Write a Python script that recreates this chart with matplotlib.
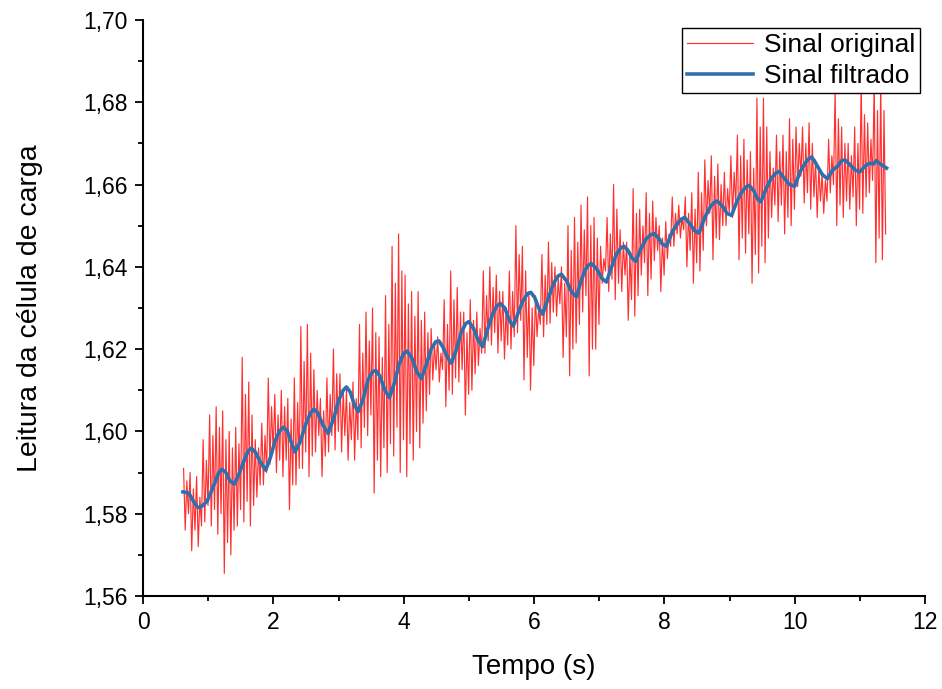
import numpy as np
import matplotlib
matplotlib.use("Agg")
import matplotlib.pyplot as plt
from matplotlib.ticker import MultipleLocator, FuncFormatter

# sinal original: envelope, um bloco a cada 0,1 s a partir de 0,62 s
t0 = 0.62
bloco = 0.1
hi_a = [1.591, 1.590, 1.589, 1.598, 1.604, 1.606, 1.605, 1.600, 1.601, 1.618,
        1.612, 1.598, 1.602, 1.613, 1.609, 1.610, 1.608, 1.613, 1.6255, 1.626,
        1.615, 1.608, 1.613, 1.620, 1.614, 1.610, 1.612, 1.626, 1.629, 1.630,
        1.623, 1.633, 1.645, 1.648, 1.638, 1.634, 1.634, 1.629, 1.625, 1.623,
        1.632, 1.639, 1.635, 1.629, 1.632, 1.629, 1.639, 1.640, 1.638, 1.634,
        1.639, 1.650, 1.645, 1.634, 1.633, 1.643, 1.646, 1.640, 1.640, 1.650,
        1.652, 1.655, 1.657, 1.652, 1.645, 1.652, 1.660, 1.649, 1.646, 1.659,
        1.654, 1.658, 1.656, 1.650, 1.651, 1.657, 1.655, 1.657, 1.658, 1.663,
        1.666, 1.667, 1.665, 1.663, 1.667, 1.672, 1.671, 1.668, 1.681, 1.681,
        1.668, 1.672, 1.672, 1.676, 1.674, 1.674, 1.675, 1.666, 1.6627, 1.671,
        1.683, 1.674, 1.670, 1.674, 1.685, 1.675, 1.685, 1.685]
lo_a = [1.576, 1.571, 1.572, 1.578, 1.577, 1.575, 1.5655, 1.570, 1.577, 1.578,
        1.577, 1.584, 1.587, 1.592, 1.590, 1.589, 1.581, 1.587, 1.591, 1.589,
        1.595, 1.589, 1.595, 1.5955, 1.595, 1.593, 1.593, 1.596, 1.599, 1.585,
        1.589, 1.590, 1.594, 1.590, 1.589, 1.593, 1.596, 1.605, 1.6125, 1.612,
        1.606, 1.609, 1.612, 1.604, 1.610, 1.616, 1.619, 1.621, 1.619, 1.6176,
        1.620, 1.624, 1.6125, 1.610, 1.623, 1.623, 1.6263, 1.628, 1.618, 1.6135,
        1.6215, 1.629, 1.6135, 1.620, 1.636, 1.634, 1.632, 1.634, 1.627, 1.628,
        1.638, 1.633, 1.6415, 1.634, 1.642, 1.645, 1.647, 1.640, 1.636, 1.639,
        1.650, 1.6417, 1.6466, 1.650, 1.652, 1.6417, 1.6433, 1.636, 1.6385, 1.641,
        1.652, 1.651, 1.648, 1.650, 1.6595, 1.6555, 1.654, 1.652, 1.653, 1.658,
        1.650, 1.652, 1.654, 1.650, 1.653, 1.658, 1.641, 1.6417]
hi_b = [1.588, 1.586, 1.584, 1.593, 1.599, 1.601, 1.598, 1.596, 1.597, 1.609,
        1.604, 1.596, 1.599, 1.606, 1.604, 1.606, 1.603, 1.607, 1.617, 1.619,
        1.610, 1.605, 1.609, 1.614, 1.610, 1.607, 1.608, 1.619, 1.622, 1.624,
        1.618, 1.626, 1.636, 1.639, 1.631, 1.628, 1.627, 1.624, 1.621, 1.619,
        1.626, 1.632, 1.629, 1.624, 1.627, 1.625, 1.633, 1.635, 1.634, 1.630,
        1.634, 1.643, 1.639, 1.630, 1.630, 1.638, 1.641, 1.637, 1.636, 1.644,
        1.646, 1.649, 1.650, 1.647, 1.642, 1.648, 1.654, 1.646, 1.643, 1.653,
        1.650, 1.653, 1.652, 1.647, 1.648, 1.653, 1.652, 1.653, 1.654, 1.658,
        1.661, 1.662, 1.660, 1.659, 1.663, 1.667, 1.666, 1.664, 1.674, 1.674,
        1.664, 1.668, 1.668, 1.671, 1.670, 1.670, 1.670, 1.664, 1.661, 1.667,
        1.676, 1.670, 1.667, 1.670, 1.677, 1.671, 1.678, 1.678]
lo_b = [1.580, 1.576, 1.577, 1.582, 1.581, 1.580, 1.573, 1.576, 1.581, 1.583,
        1.582, 1.587, 1.590, 1.595, 1.593, 1.593, 1.587, 1.591, 1.595, 1.594,
        1.599, 1.594, 1.599, 1.600, 1.599, 1.598, 1.598, 1.601, 1.604, 1.593,
        1.596, 1.597, 1.601, 1.598, 1.597, 1.600, 1.602, 1.609, 1.615, 1.615,
        1.610, 1.613, 1.615, 1.609, 1.614, 1.619, 1.622, 1.624, 1.622, 1.621,
        1.623, 1.627, 1.618, 1.616, 1.626, 1.626, 1.629, 1.631, 1.623, 1.620,
        1.626, 1.633, 1.620, 1.626, 1.639, 1.637, 1.636, 1.638, 1.632, 1.633,
        1.641, 1.637, 1.644, 1.638, 1.645, 1.648, 1.649, 1.644, 1.641, 1.644,
        1.653, 1.647, 1.650, 1.653, 1.655, 1.647, 1.648, 1.643, 1.645, 1.647,
        1.655, 1.655, 1.652, 1.654, 1.662, 1.658, 1.657, 1.656, 1.656, 1.660,
        1.655, 1.656, 1.657, 1.654, 1.657, 1.661, 1.647, 1.648]

# sinal filtrado: pontos lidos (tempo, valor)
t_filt = [0.61, 0.70, 0.78, 0.84, 0.90, 0.98, 1.10, 1.16, 1.21, 1.27, 1.33, 1.40,
          1.48, 1.55, 1.61, 1.66, 1.72, 1.80, 1.88, 1.95, 2.02, 2.09, 2.15, 2.21,
          2.27, 2.33, 2.41, 2.50, 2.57, 2.62, 2.68, 2.76, 2.84, 2.92, 3.00, 3.07,
          3.12, 3.18, 3.24, 3.30, 3.38, 3.45, 3.52, 3.57, 3.63, 3.71, 3.78, 3.86,
          3.93, 4.00, 4.05, 4.12, 4.20, 4.27, 4.35, 4.42, 4.49, 4.54, 4.60, 4.67,
          4.73, 4.81, 4.88, 4.95, 5.00, 5.07, 5.14, 5.21, 5.29, 5.36, 5.43, 5.48,
          5.55, 5.62, 5.68, 5.76, 5.83, 5.90, 5.95, 6.01, 6.07, 6.13, 6.22, 6.30,
          6.37, 6.42, 6.50, 6.58, 6.65, 6.72, 6.78, 6.84, 6.88, 6.96, 7.04, 7.11,
          7.19, 7.26, 7.33, 7.38, 7.44, 7.50, 7.56, 7.64, 7.72, 7.79, 7.84, 7.91,
          7.97, 8.03, 8.12, 8.20, 8.26, 8.31, 8.39, 8.46, 8.53, 8.62, 8.70, 8.76,
          8.81, 8.89, 8.96, 9.03, 9.11, 9.18, 9.25, 9.30, 9.37, 9.43, 9.48, 9.56,
          9.64, 9.71, 9.76, 9.84, 9.92, 10.00, 10.08, 10.15, 10.21, 10.26, 10.33, 10.42,
          10.50, 10.58, 10.66, 10.72, 10.77, 10.85, 10.93, 11.00, 11.08, 11.15, 11.21, 11.25,
          11.33, 11.41]
v_filt = [1.5853, 1.5850, 1.5828, 1.5815, 1.5818, 1.5830, 1.5875, 1.5900, 1.5908, 1.5900, 1.5880, 1.5872,
          1.5900, 1.5930, 1.5952, 1.5959, 1.5950, 1.5925, 1.5906, 1.5935, 1.5975, 1.6000, 1.6010, 1.6002,
          1.5975, 1.5950, 1.5975, 1.6020, 1.6045, 1.6054, 1.6045, 1.6015, 1.5995, 1.6030, 1.6075, 1.6100,
          1.6108, 1.6095, 1.6065, 1.6048, 1.6080, 1.6125, 1.6145, 1.6148, 1.6135, 1.6100, 1.6082, 1.6120,
          1.6165, 1.6190, 1.6195, 1.6180, 1.6145, 1.6128, 1.6165, 1.6200, 1.6218, 1.6220, 1.6205, 1.6180,
          1.6166, 1.6200, 1.6240, 1.6262, 1.6267, 1.6250, 1.6222, 1.6206, 1.6250, 1.6285, 1.6305, 1.6311,
          1.6300, 1.6270, 1.6256, 1.6290, 1.6318, 1.6335, 1.6338, 1.6325, 1.6300, 1.6285, 1.6325, 1.6360,
          1.6378, 1.6382, 1.6365, 1.6338, 1.6327, 1.6365, 1.6392, 1.6405, 1.6408, 1.6395, 1.6372, 1.6363,
          1.6400, 1.6430, 1.6446, 1.6450, 1.6440, 1.6422, 1.6413, 1.6445, 1.6468, 1.6478, 1.6481, 1.6470,
          1.6455, 1.6450, 1.6485, 1.6505, 1.6516, 1.6520, 1.6505, 1.6488, 1.6482, 1.6520, 1.6545, 1.6556,
          1.6560, 1.6548, 1.6530, 1.6525, 1.6558, 1.6580, 1.6594, 1.6598, 1.6585, 1.6565, 1.6558, 1.6590,
          1.6615, 1.6628, 1.6632, 1.6615, 1.6600, 1.6596, 1.6630, 1.6650, 1.6662, 1.6667, 1.6650, 1.6625,
          1.6614, 1.6635, 1.6645, 1.6658, 1.6660, 1.6648, 1.6635, 1.6631, 1.6645, 1.6652, 1.6650, 1.6658,
          1.6648, 1.6640]

xticks = [0, 2, 4, 6, 8, 10, 12]
yticks = [1.56, 1.58, 1.60, 1.62, 1.64, 1.66, 1.68, 1.70]

# monta o sinal original: 4 amostras por bloco
v_orig = np.column_stack([hi_a, lo_a, hi_b, lo_b]).ravel()
t_orig = t0 + np.arange(len(v_orig)) * bloco / 4

plt.rcParams['font.family'] = ['Liberation Sans', 'DejaVu Sans']

fig = plt.figure(figsize=(9.42, 6.89), dpi=100)
ax = fig.add_axes([0.152, 0.135, 0.830, 0.836])

ax.plot(t_orig, v_orig, color='#ff3030', lw=0.85, label='Sinal original')
ax.plot(t_filt, v_filt, color='#2f6fab', lw=2.6, label='Sinal filtrado')

ax.set_xlim(0, 12)
ax.set_ylim(1.56, 1.70)
ax.set_xticks(xticks)
ax.set_yticks(yticks)
ax.xaxis.set_minor_locator(MultipleLocator(1))
ax.yaxis.set_minor_locator(MultipleLocator(0.01))
ax.yaxis.set_major_formatter(FuncFormatter(lambda v, p: f'{v:.2f}'.replace('.', ',')))
ax.tick_params(which='major', direction='out', length=6, width=1.3, labelsize=16.5, pad=5)
ax.tick_params(which='minor', direction='out', length=3.5, width=1.3)
for s in ['top', 'right']:
    ax.spines[s].set_visible(False)
for s in ['left', 'bottom']:
    ax.spines[s].set_linewidth(1.5)

ax.set_xlabel('Tempo (s)', fontsize=20, labelpad=14)
ax.set_ylabel('Leitura da célula de carga', fontsize=20.5, labelpad=29)

leg = ax.legend(loc='upper right', bbox_to_anchor=(0.994, 0.986), fontsize=19,
                handlelength=2.5, fancybox=False, framealpha=1, edgecolor='black',
                borderpad=0.2, labelspacing=0.25, handletextpad=0.4, borderaxespad=0)
leg.get_frame().set_linewidth(1.0)

fig.savefig('out.png', dpi=100)
